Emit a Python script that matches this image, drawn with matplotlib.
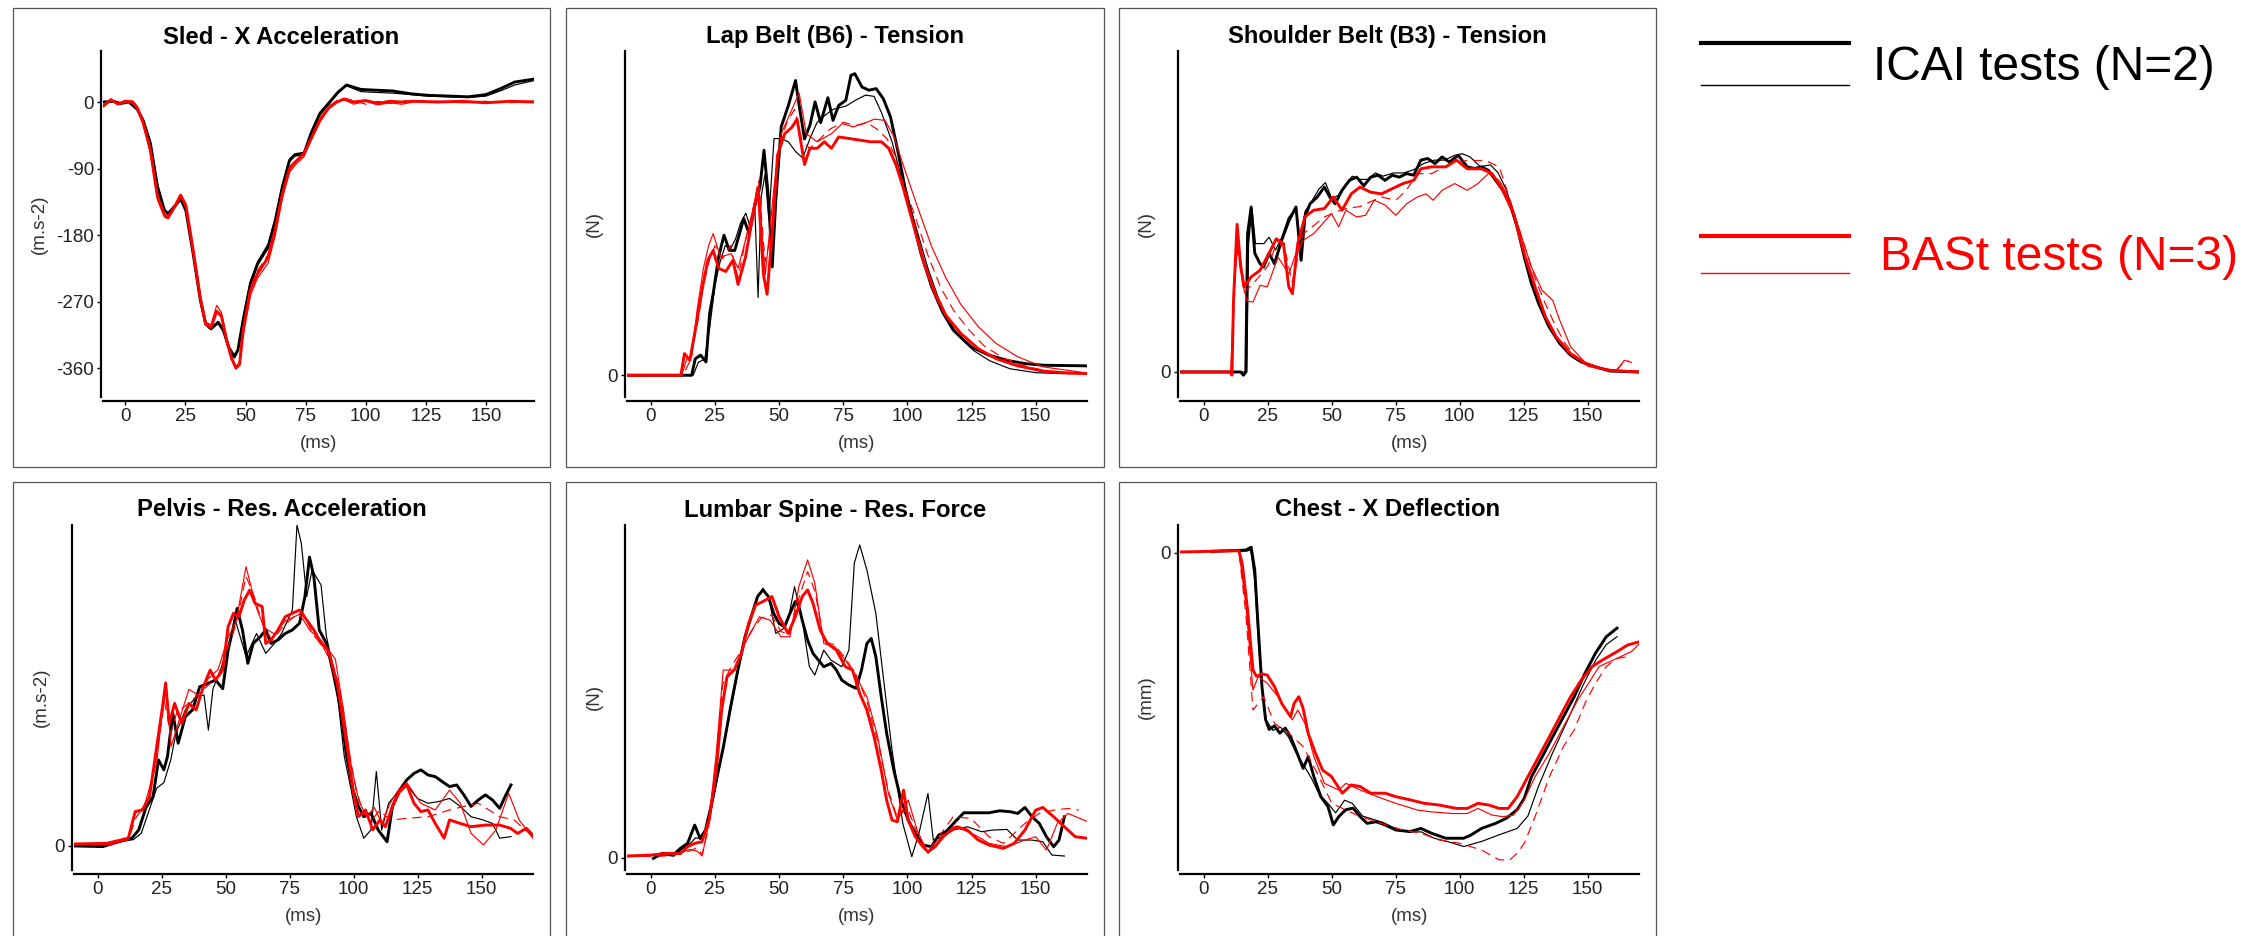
"""Sled test comparison: ICAI vs BASt traces (6 channels)."""
import matplotlib

matplotlib.use("Agg")
import matplotlib.pyplot as plt  # noqa: E402
from matplotlib.patches import Rectangle  # noqa: E402

plt.rcParams["font.family"] = ["Liberation Sans", "DejaVu Sans"]

FIG_W, FIG_H = 2261, 936

# ---------------------------------------------------------------- data (ms, value)
# Sled - X Acceleration (m.s-2)
sled_icai1 = [(-9, 0), (-5, 1), (-2, -2), (1.5, 0), (5, -10), (7.4, -25), (10.4, -56), (13.4, -115),
              (16.3, -147), (17.8, -151), (20.8, -140), (23, -131), (25.2, -147), (28.2, -205),
              (31.2, -268), (33.4, -300), (35.6, -307), (38.6, -298), (40.8, -309), (43, -332),
              (45.3, -345), (46.8, -336), (49, -295), (52, -246), (55, -219), (59.4, -196),
              (62.4, -160), (65.3, -115), (68.3, -79), (70.5, -72), (74.3, -70), (77.2, -43),
              (80.9, -16), (84.6, -2), (88.4, 13), (92, 23), (95, 20), (98, 17), (104, 16),
              (111, 15), (119, 11), (126, 9), (135, 8), (142.6, 7), (150, 10), (156, 18),
              (162, 27), (170, 31)]
sled_icai2 = [(-9, 0.5), (-5, 1), (-2, -2), (1.5, 0), (5, -9), (7.4, -23), (10.4, -53), (13.4, -112),
              (16.3, -145), (17.8, -150), (20.8, -139), (23, -130), (25.2, -146), (28.2, -203),
              (31.2, -266), (33.4, -298), (35.6, -305), (38.6, -297), (40.8, -307), (43, -330),
              (45.3, -342), (46.8, -334), (49, -292), (52, -243), (55, -216), (59.4, -192),
              (62.4, -157), (65.3, -113), (68.3, -77), (70.5, -70), (74.3, -68), (77.2, -41),
              (80.9, -14), (84.6, 0), (88.4, 14), (92, 22), (95, 18), (98, 14), (104, 13),
              (111, 12), (119, 10), (126, 8), (135, 7), (142.6, 6), (150, 8), (156, 15),
              (162, 23), (170, 29)]
sled_bast1 = [(-9, -5), (-6, 3), (-3, -3), (0, 1), (3, 0), (5, -8), (7.4, -28), (10.4, -65),
              (13.4, -129), (16.3, -153), (17.8, -156), (20.8, -140), (23, -126), (25.2, -140),
              (28.2, -200), (31.2, -265), (33.4, -300), (35.6, -305), (38, -283), (40, -290),
              (42, -320), (44, -345), (46, -360), (47.5, -355), (49, -310), (52, -255),
              (55, -232), (59.4, -210), (62.4, -172), (65.3, -125), (68.3, -90), (71, -80),
              (74.3, -70), (77.2, -50), (80.9, -25), (84.6, -8), (88, 0), (91, 4), (95, 0),
              (100, 2), (105, -2), (110, 1), (115, 0), (120, 1), (130, 0), (140, 1), (150, -1),
              (160, 1), (170, 0)]
sled_bast2 = [(-9, -3), (-6, 4), (-3, -2), (0, 2), (3, 1), (5, -6), (7.4, -30), (10.4, -68),
              (13.4, -132), (16.3, -156), (17.8, -158), (20.8, -142), (23, -128), (25.2, -142),
              (28.2, -203), (31.2, -268), (33.4, -302), (35.6, -302), (38, -275), (40, -285),
              (42, -318), (44, -345), (46, -358), (47.5, -352), (49, -315), (52, -262),
              (55, -238), (59.4, -218), (62.4, -180), (65.3, -130), (68.3, -95), (71, -84),
              (74.3, -74), (77.2, -52), (80.9, -27), (84.6, -9), (88, 1), (91, 3), (95, -3),
              (100, 1), (105, -4), (110, -1), (115, -3), (120, 0), (130, 1), (140, -1), (150, 0),
              (160, 1), (170, 1)]
sled_bast3 = [(-9, -4), (-6, 2), (-3, -3), (0, 2), (3, 1), (5, -7), (7.4, -27), (10.4, -62),
              (13.4, -126), (16.3, -150), (17.8, -154), (20.8, -138), (23, -124), (25.2, -138),
              (28.2, -198), (31.2, -262), (33.4, -298), (35.6, -301), (38, -280), (40, -288),
              (42, -322), (44, -348), (46, -356), (47.5, -350), (49, -306), (52, -250),
              (55, -228), (59.4, -206), (62.4, -168), (65.3, -122), (68.3, -88), (71, -78),
              (74.3, -68), (77.2, -48), (80.9, -22), (84.6, -6), (88, 2), (91, 5), (95, 2),
              (100, -3), (105, 1), (110, -2), (115, 1), (120, 2), (130, 0), (140, 0), (150, 1),
              (160, -1), (170, 1)]

# Lap Belt (B6) - Tension (N, relative scale)
lap_icai1 = [(-9.3, 0), (15.9, 0), (17.3, 5.1), (19.4, 6.2), (21.5, 4.1), (22.9, 19), (24.3, 25.2),
             (26.4, 36.5), (28.5, 43.2), (30.6, 38.5), (32.7, 38.5), (36.2, 48.3), (38.3, 43.7),
             (40.4, 51.9), (42.5, 58), (44.1, 69.4), (45.9, 54), (47.3, 33.4), (48.7, 54),
             (50.8, 76.6), (53.6, 83.2), (56.4, 90.9), (57.8, 83.2), (59.9, 72.9), (62, 77.1),
             (64, 84.3), (66.2, 77.9), (69, 85.6), (71, 78.6), (73.2, 83.2), (76, 84.8),
             (78, 92.5), (79.5, 93), (82.3, 88.9), (85, 87.9), (87.8, 88.4), (90.6, 85.3),
             (93.4, 79.7), (96.2, 69.4), (99, 58.1), (101.8, 48.8), (105.3, 37.5), (109.5, 27.2),
             (113.7, 19.5), (117.9, 13.9), (124.9, 8.7), (131.8, 6.2), (138.8, 4.6), (145.8, 3.6),
             (152.8, 3.1), (170, 2.9)]
lap_icai2 = [(-9.3, 0), (16.5, 0), (18.5, 4), (21, 5), (23, 15), (25, 28), (27, 35), (29, 40),
             (31, 39), (33, 42), (35, 47), (37, 50), (39, 45), (40.5, 52), (41.8, 24), (43, 55),
             (44.5, 62), (46, 48), (48, 73), (50.8, 73), (53.6, 72), (56.4, 69), (59.2, 67),
             (62, 73), (64.8, 78), (67.6, 80), (71, 82), (76, 83), (80.2, 85), (83.7, 86.4),
             (87, 86), (89.9, 81), (94, 72), (97, 63), (100, 55), (104, 44), (108, 33), (112, 24),
             (116, 17), (120, 12), (126, 7.5), (132, 4.5), (140, 2), (150, 0.8), (160, 0.5),
             (170, 0.5)]
lap_bast1 = [(-9.3, 0), (11.7, 0), (13.1, 6.7), (15.2, 4.6), (18, 17), (20.1, 27), (22.2, 35.5),
             (24.3, 38.5), (26.4, 33), (29.2, 32), (32, 35.5), (34, 28), (36.9, 36.5), (39.7, 49),
             (41.8, 58), (43.9, 31), (45.3, 25), (47.3, 44), (49.4, 68), (52.2, 74.5), (55, 76.5),
             (57, 79), (59.9, 65), (62, 70), (64.8, 70), (67.6, 72), (70.4, 70), (73.2, 73.5),
             (77.4, 73), (81.6, 72.5), (85.7, 72), (89.9, 72), (92.7, 70), (95.5, 65), (98.3, 58),
             (102.5, 46), (106.7, 34), (110.9, 25), (115, 18.5), (120.7, 13), (127.6, 8.2),
             (134.6, 5.1), (143, 2.9), (152.8, 1.3), (162.6, 0.7), (170, 0.5)]
lap_bast2 = [(-9.3, 0), (12, 0), (14, 5), (16, 6), (18, 20), (20.5, 33), (22.5, 40), (24.3, 43.7),
             (27.1, 36.5), (31.3, 37.5), (34, 33), (38.3, 46), (41.8, 58), (44.6, 31), (48, 58),
             (50.8, 74.5), (55, 82), (57.8, 87), (60.6, 74.5), (64.8, 72), (70.4, 74.5),
             (74.6, 77.6), (78.8, 76.6), (83, 77.6), (87.1, 79), (91.3, 78.6), (94.8, 73.5),
             (98.3, 65), (103.9, 52), (109.5, 39.6), (115, 30), (120.7, 22), (127.6, 15),
             (134.6, 9.8), (143, 5.7), (152.8, 2.6), (170, 0.7)]
lap_bast3 = [(-9.3, 0), (12.5, 0), (15, 4), (18, 15), (20.5, 28), (23, 36), (25, 40), (28, 36),
             (31, 40), (34, 30), (37, 42), (40, 52), (42, 60), (44.5, 35), (47.5, 45), (50, 70),
             (53, 78), (56, 82), (59, 72), (62, 70), (66, 73), (70, 76), (75, 78), (80, 77),
             (84, 78), (88, 76), (92, 73), (95, 68), (98, 60), (103, 49), (108, 37), (113, 27),
             (118, 20), (124, 14), (130, 9), (137, 5.5), (145, 3), (155, 1.2), (170, 0.5)]

# Shoulder Belt (B3) - Tension (N, relative scale)
sh_icai1 = [(-9.3, 0), (14.4, 0), (15.5, -1), (16.4, 0), (17.1, 43), (18.5, 51.4), (19.9, 37),
            (22, 33.7), (23.4, 32.7), (25.5, 37), (27.6, 33.7), (30.4, 41), (33.2, 47), (36, 51.4),
            (38, 34.8), (39.5, 48.3), (41.5, 52.4), (44.3, 54.5), (47.1, 57.6), (49.2, 54.5),
            (51.3, 52.4), (54, 56.6), (56.9, 59.7), (59.7, 60.7), (62.5, 58), (65.2, 60.7),
            (68, 61.3), (70.8, 59.7), (73.6, 61.3), (76.4, 60.7), (79.2, 61.8), (82, 61.3),
            (84.8, 66), (87.5, 66.5), (90.3, 64.9), (93.1, 67), (95.9, 65.4), (99.4, 67.5),
            (102.9, 63.9), (105.7, 63.4), (108.5, 63.9), (111.2, 62.8), (114, 59.7), (116.8, 56.6),
            (119.6, 52.4), (122.4, 45.2), (125.2, 35.8), (128, 27.5), (130.8, 21.3), (134.9, 14),
            (139.1, 8.8), (143.3, 5.2), (147.5, 3.1), (153, 1.6), (158.6, 0.3), (170, 0)]
sh_icai2 = [(-9.3, 0), (16.8, 0), (17.5, 40), (18.8, 51), (20.2, 40), (22, 40), (23.5, 40),
            (25.5, 42), (28, 38), (30.5, 42), (33, 48), (36, 51), (37.5, 38), (39.5, 50), (42, 53),
            (45, 57), (47.5, 59), (50, 54), (52.5, 55), (55, 58), (58, 61), (61, 60), (64, 60),
            (67, 62), (70, 61), (74, 62), (78, 62), (82, 63), (86, 65), (90, 66), (94, 66),
            (98, 67.5), (101, 68), (104, 67), (108, 64), (112, 64.5), (115, 62), (118, 57),
            (121, 50), (124, 40), (127, 31), (130, 23), (134, 15), (139, 9), (144, 5), (150, 2.2),
            (158, 0.5), (170, 0)]
sh_bast1 = [(-9.3, 0), (10.2, 0), (11, -1), (11.6, 22.3), (13, 46), (14.4, 32.7), (15.8, 26.5),
            (18.5, 29.6), (22, 31.7), (25.5, 37), (28.3, 41.5), (31.1, 40), (33.2, 26.5),
            (34.6, 24.4), (36.7, 40), (39.5, 48.3), (42.9, 50.4), (47.1, 50.9), (50.6, 54.5),
            (54, 50.4), (57.6, 55.5), (61, 57.6), (65.2, 56), (69.4, 55.5), (73.6, 57.1),
            (77.8, 58.7), (82, 59.7), (84.8, 63.3), (88.9, 63.9), (94.5, 63.9), (98.7, 66),
            (102.9, 63.3), (108.5, 63.3), (112.6, 61.8), (116.8, 56.6), (121, 49.3), (125.2, 36.8),
            (129.4, 26.5), (133.5, 17.1), (137.7, 10.9), (143.3, 5.7), (150.3, 2), (158.6, 0.5),
            (170, 0)]
sh_bast2 = [(-9.3, 0), (10.5, 0), (12, 30), (13.5, 40), (15.2, 27), (17, 22), (19.2, 21.8),
            (22, 27), (24.8, 26.5), (29, 35.8), (33.2, 30.5), (36, 37), (38.8, 41), (42.9, 43.1),
            (46.4, 46.2), (49.9, 49.3), (52.7, 45.2), (55.5, 50.4), (59.7, 48.3), (63.2, 48.8),
            (66.6, 53.5), (70.8, 52), (75, 48.8), (79.2, 52.4), (83.4, 54.5), (86.8, 55.5),
            (89.6, 53.5), (93.1, 56.6), (98, 58.7), (102.9, 56.6), (107.1, 58.7), (111.2, 61.8),
            (115.4, 59.7), (119.6, 53.5), (123.8, 43), (128, 32.7), (132.2, 25.4), (136.3, 22.3),
            (139.1, 16), (143.3, 7.8), (148.8, 3.1), (155.8, 1), (161.4, 0.5), (164.2, 3.6),
            (167, 3)]
sh_bast3 = [(-9.3, 0), (10.8, 0), (12.5, 35), (14, 38), (16, 25), (19.2, 27.5), (22, 30), (25, 33),
            (29, 41), (32, 37), (34.5, 28), (38.8, 43), (42, 45), (47.1, 48.3), (52, 50), (56, 51),
            (61, 51.5), (65, 53), (69.4, 54.5), (75, 53.5), (79, 56.5), (83.4, 61.8), (88.9, 61.8),
            (97, 65), (102.9, 65.9), (110, 65.9), (115.4, 63.9), (118, 57.6), (121, 50), (125, 40),
            (129, 30), (133, 22), (137, 15), (141, 9), (145, 5), (150, 2.5), (156, 1), (161, 0.5),
            (164, 3), (166, 3.5)]

# Pelvis - Res. Acceleration (m.s-2, relative scale)
pel_icai1 = [(-9.3, 0), (2, -0.2), (10.5, 1.9), (13.3, 2.4), (16, 5), (18.8, 12), (21.6, 15.4),
             (23.7, 26.8), (25.8, 23.7), (27.2, 27.8), (29.3, 41.3), (31.4, 32), (34.2, 40.3),
             (37, 42.4), (39.8, 49.6), (43.2, 50.7), (46, 51.7), (48.8, 49), (50.9, 61), (53, 68.3),
             (54.4, 74), (56.5, 67.3), (58.6, 56.9), (60.7, 63.1), (63.5, 65.2), (65.6, 67.3),
             (67.7, 63.1), (70.4, 64.2), (73.2, 66.2), (76, 67.3), (78.8, 69.4), (80.9, 77.7),
             (82.7, 90), (84.4, 83.9), (86.5, 67.3), (89.3, 63.1), (92, 53.8), (94.9, 42.4),
             (97, 28.9), (99.7, 17.4), (101.8, 12.3), (103.9, 9.1), (106.7, 10.2), (109.5, 5),
             (113, 1.3), (115.1, 12.3), (117.9, 17.4), (120.7, 20.6), (123.5, 22.6), (126.2, 23.7),
             (129, 22.1), (131.8, 21.6), (134.6, 20), (137.4, 18.5), (140.2, 19), (143, 15.9),
             (145.8, 12.3), (148.6, 14.3), (151.4, 15.9), (154.2, 14.3), (157, 11.7), (159.1, 15.4),
             (161.4, 19)]
pel_icai2 = [(-9.3, 0), (2, 0), (10.5, 1.5), (14, 2), (17, 4), (20, 11), (23, 18), (25.8, 19.7),
             (28.5, 26.8), (30.5, 35), (34.2, 42.4), (38.4, 46.5), (41.5, 47), (43.2, 36.1),
             (45, 49), (48, 55), (50.9, 62.3), (53.7, 70.4), (57.9, 59), (62, 66.2), (65.6, 60),
             (69, 63.1), (71.8, 66.2), (76, 73.5), (77.8, 100), (79.5, 94.3), (81.6, 77.7),
             (83.7, 86), (87.2, 81.3), (89.3, 65.2), (92.8, 52.7), (96.3, 27.8), (99, 17.4),
             (101, 9.1), (103.9, 2.4), (106.7, 5), (108.8, 23.2), (110.9, 5), (113.6, 13.3),
             (117.9, 17.4), (120.7, 19), (124.8, 14.8), (129, 13.3), (133, 13.8), (137.4, 14.8),
             (141.6, 12.3), (145.8, 9.1), (150.5, 8.1), (154.2, 7), (157, 2.4), (161.4, 2.9)]
pel_bast1 = [(-9.3, 0.6), (3.5, 0.8), (11.9, 2.4), (14.6, 10.7), (17.4, 11.2), (20.2, 15.4),
             (23, 30.9), (25.1, 42.4), (26.5, 50.7), (27.9, 38.2), (30, 44.4), (32.8, 38.2),
             (35.6, 44.4), (38.4, 42.4), (41.2, 49.6), (43.9, 54.8), (46, 51.7), (48.8, 54.8),
             (50.9, 68.3), (53, 72.5), (55.1, 71.4), (57.2, 76.6), (59.3, 79.7), (61.4, 75.6),
             (64.2, 74.6), (65.6, 63.1), (67.7, 64.2), (70.4, 67.3), (73.2, 71.4), (76, 72.5),
             (78.8, 73.5), (81.6, 70.4), (84.4, 67.3), (87.2, 63.1), (90, 61), (93.5, 50.7),
             (95.6, 40.3), (97.7, 28.9), (99.7, 17.4), (101.8, 9.1), (104.6, 11.2), (107.4, 5),
             (110.2, 8.1), (112.3, 6), (115.1, 12.3), (117.9, 16.9), (120.7, 19), (123.5, 13.3),
             (126.2, 10.7), (129, 11.2), (131.8, 7), (135.3, 2.4), (137.4, 8.1), (141.6, 7),
             (145.8, 6), (151.4, 6.5), (157, 6.5), (161.2, 5.5), (164, 3.9), (167.4, 5.5),
             (169.9, 3.4)]
pel_bast2 = [(-9.3, 0.5), (5, 0.5), (12, 2), (14.6, 10.2), (18, 12), (23, 25.9), (26.5, 51.2),
             (28.6, 30.9), (31.4, 38.2), (35.6, 48.8), (39.8, 46.7), (43, 52), (47, 55), (50.9, 65),
             (54, 70), (57.9, 87), (62, 74.1), (65, 68), (69, 66), (73.2, 70.1), (78.8, 72.2),
             (83, 67), (87.2, 64.2), (92.8, 58.2), (96, 42), (99, 25), (102, 14), (105, 9),
             (108, 12), (111, 7), (114, 13), (117, 17), (120.7, 19.7), (126.2, 13.3), (131.8, 11.2),
             (137.4, 17.4), (141.6, 13.3), (145.8, 3.9), (150.7, 0.3), (155.5, 5), (160.5, 16.4),
             (164.6, 8.1), (169.9, 2.4)]
pel_bast3 = [(-9.3, 0.3), (5, 0.3), (12, 2), (15, 9), (19, 13), (23, 28), (26, 45), (28.5, 35),
             (31, 42), (35, 44), (39, 47), (43, 50), (47, 53), (50.9, 62), (54, 69), (57.9, 84),
             (61, 78), (64, 70), (68, 64), (72, 68), (76, 71), (80, 73), (84, 66), (88, 62),
             (92, 56), (95.5, 45), (98, 30), (101, 17), (104, 10), (107, 8), (110, 11), (113, 9),
             (115.1, 8.1), (120.7, 8.6), (129, 9.1), (137.4, 11.2), (143, 12.3), (148.6, 13.3),
             (157, 9.1), (162.6, 8.1), (169.9, 2.9)]

# Lumbar Spine - Res. Force (N, relative scale)
lum_icai1 = [(1, -0.2), (4.5, 1.3), (8.7, 0.8), (11.5, 2.8), (14.3, 4.3), (17.1, 9.8), (19.2, 5.8),
             (21.3, 8.3), (23.4, 15.3), (25.5, 23.3), (28.3, 33.4), (31.1, 45.4), (33.9, 56.4),
             (36.7, 66.4), (39.5, 73.4), (41.6, 78.5), (43.7, 80.5), (45.8, 78.5), (47.9, 73.4),
             (50, 70.4), (52.1, 69.4), (54.2, 73.4), (56.3, 77), (57.7, 75.5), (59, 71.4),
             (61.1, 65.4), (63.2, 61.4), (65.3, 59.4), (67.4, 57.4), (70.2, 58.4), (72.3, 56.4),
             (74.4, 53.4), (77.2, 51.9), (80, 50.9), (82.1, 56.4), (84.2, 64.4), (85.9, 65.9),
             (87.7, 60.4), (89.8, 48.4), (91.9, 37.4), (94.7, 26.3), (97.5, 17.3), (100.3, 11.3),
             (103.1, 7.3), (106, 3.8), (109.4, 3.3), (112.2, 6.8), (115, 7.8), (119.2, 11.3),
             (122, 13.5), (126.2, 13.5), (131.8, 13.5), (136, 14.1), (140.2, 13.8), (143, 13.3),
             (145.8, 15.1), (148.6, 12.3), (151.4, 10.3), (154.2, 6.3), (157, 3.3), (159.1, 5.3),
             (161.2, 12.3)]
lum_icai2 = [(1, 0), (5, 0.8), (9, 0.5), (12, 2.5), (15, 4), (17.5, 6), (20, 5.5), (22.5, 10),
             (25, 20), (28, 32), (31, 44), (34, 56), (37, 67), (40, 75), (42, 79), (43.7, 81),
             (46, 78), (48.7, 67.4), (52, 69), (54, 73.4), (56, 81.5), (59, 71.4), (61.8, 57.4),
             (63.9, 54.9), (67.4, 62.4), (70.2, 59.4), (74.4, 57.4), (77.2, 62.4), (79.3, 88.5),
             (81.4, 94), (84.2, 86.5), (87.7, 73.4), (91.2, 50.4), (94, 32.4), (98.2, 10.3),
             (101.7, 0.3), (104.5, 7.3), (108, 19.3), (110.1, 5.3), (113.6, 6.3), (117.8, 8.3),
             (123.4, 9.3), (129, 7.8), (133.2, 8.3), (138.8, 8.5), (143, 5.3), (148.6, 5.3),
             (152.8, 4.8), (156.3, 0.8), (161.2, 0.5)]
lum_bast1 = [(-9.5, 0.5), (0.3, 0.8), (5.9, 1.3), (11.5, 1.3), (14.3, 3.3), (17.1, 4.3),
             (19.9, 4.8), (22.7, 11.3), (25.5, 26.3), (27.6, 44.4), (29.7, 54.4), (32.5, 56.4),
             (35.3, 61.4), (38.1, 70.4), (40.9, 76), (43.7, 77), (47.2, 78.5), (50, 72.4),
             (53.5, 67.4), (56.3, 72.4), (59, 78.5), (61.1, 80.5), (63.2, 76.5), (66, 68.4),
             (68.8, 64.4), (72.3, 62.4), (75.8, 57.4), (78.6, 56.4), (81.4, 49.4), (84.2, 44.4),
             (87, 36.4), (89.8, 26.3), (91.9, 17.3), (94, 11.3), (96.1, 10.8), (98.5, 20.3),
             (100.3, 11.3), (103.1, 6.3), (106, 3.3), (108, 1.8), (110.8, 3.3), (113.6, 6.3),
             (116.4, 7.8), (119.2, 9.3), (123.4, 8.3), (127.6, 5.3), (131.8, 3.8), (137.4, 2.8),
             (141.6, 4.3), (145.8, 8.3), (150, 14.3), (152.8, 15.1), (157, 12.3), (161.2, 9.3),
             (165.4, 6.3), (170.3, 5.8)]
lum_bast2 = [(-9.5, 0.5), (5, 0.8), (12, 1.5), (15, 2.5), (18, 2), (20, 0.5), (22.5, 10),
             (25.5, 31.4), (28.2, 56.4), (32.5, 56.4), (36.7, 64.4), (42.3, 72.4), (46.5, 71.4),
             (50.7, 66.4), (54.2, 66.4), (57.7, 81.5), (61.1, 89.5), (63.9, 82.5), (67.4, 64.4),
             (71.6, 63.4), (75.8, 59.4), (80, 54.4), (84.2, 48.4), (88.4, 36.4), (92.6, 19.3),
             (96.1, 11.3), (100.3, 17.3), (103.8, 8.3), (108, 1.3), (112.2, 4.3), (117.8, 9.3),
             (122, 8.3), (127.6, 6.3), (131.8, 4.3), (138.8, 3.3), (145.8, 5.3), (150, 6.3),
             (154.2, 2.3), (158.4, 10.3), (162.6, 13.3), (170.3, 10.8)]
lum_bast3 = [(-9.5, 0.3), (5, 0.5), (12, 1.2), (15, 2), (18, 3), (20, 1), (22.5, 9), (25.5, 30),
             (28, 52), (31, 57), (35, 62), (39, 68), (43, 72), (47, 73), (50.7, 68), (54, 67),
             (57.7, 78), (61.1, 86), (64, 80), (67.4, 65), (71.6, 64), (75.8, 60), (80, 55),
             (84.2, 47), (88.4, 35), (92.6, 20), (96.1, 12), (100, 15), (104, 7), (108, 2),
             (112, 6), (117.8, 12.3), (124.8, 11.8), (131.8, 6.3), (137.4, 4.3), (145.8, 10.3),
             (151.4, 13.3), (157, 14.3), (162.6, 14.8), (166.8, 14.3)]

# Chest - X Deflection (mm, relative scale)
ch_icai1 = [(3.2, 0.4), (16.4, 0.8), (18.5, 1.7), (19.9, -5.5), (21.3, -24.4), (22.7, -42),
            (24.1, -52.5), (25.5, -55.7), (27.6, -54.6), (29.7, -56.9), (31.8, -55.3), (33.9, -58),
            (36, -62.2), (38.8, -68), (40.8, -64.3), (43, -70.6), (45.7, -76.9), (48.5, -80),
            (50.6, -85.8), (52.7, -83.2), (55.5, -81), (58.3, -80.5), (61.1, -83.2), (63.8, -85.3),
            (67.3, -84.8), (70.8, -85.8), (75, -87.4), (80.6, -87.9), (84.8, -86.9), (88.9, -88.4),
            (94.5, -90), (101.5, -90), (104.3, -89), (108.5, -86.9), (114, -85.3), (118.2, -83.7),
            (122.4, -81), (125.2, -77.4), (128, -70.6), (132.2, -64.3), (136.3, -58),
            (140.5, -51.7), (144.7, -45.4), (148.9, -38), (153, -31.7), (157.2, -26.5),
            (161.4, -23.8)]
ch_icai2 = [(3.2, 0.3), (16.8, 0.5), (18.3, 0.8), (19.8, -8), (21.5, -30), (23, -45), (24.5, -53),
            (27, -56), (30, -55), (33, -58), (36, -63), (39, -67), (42, -71), (45, -76),
            (48.5, -79), (51.5, -82), (55, -78), (58, -79), (62, -83), (66, -84), (70, -85),
            (75, -87), (80, -88), (85, -88), (90, -90), (95, -91), (101.6, -92.6), (108.5, -91),
            (115.4, -88.9), (122.4, -86.9), (126.6, -83), (130.8, -73.5), (136.3, -63), (142, -53),
            (148, -42), (153, -34), (157.2, -29), (161.4, -26.5)]
ch_bast1 = [(-9, 0.2), (13.7, 0.6), (15, -3.4), (17.1, -18), (19.2, -37), (20.6, -39),
            (22.7, -38.2), (24.8, -38.6), (27.6, -42.2), (30.4, -47.5), (33.9, -51.7),
            (35.3, -47.5), (37.1, -45.4), (38.8, -49.1), (40.8, -57), (43.6, -63.2), (46.4, -68.5),
            (49.9, -70.6), (54.1, -75.8), (57.6, -73.2), (61.1, -73.7), (65.2, -75.8),
            (70.8, -75.8), (75, -76.9), (80.6, -77.9), (86.2, -79), (91.7, -79.5), (98.7, -80.6),
            (102.9, -80.6), (107.1, -79), (111.2, -79.5), (115.4, -80.6), (118.9, -80.6),
            (122.4, -76.9), (126.6, -70.6), (130.8, -64.3), (135, -58), (139.1, -51.7),
            (143.3, -45.4), (147.5, -40.1), (151.7, -35.9), (155.8, -33.8), (161.4, -31.2),
            (165.6, -29.1), (170.5, -28)]
ch_bast2 = [(-9, 0.2), (13.7, 0.6), (16.5, -16.6), (19.2, -43.3), (21.3, -39), (24.8, -41.2),
            (29, -45.4), (34.6, -52.7), (36.7, -49.6), (39.5, -53.8), (43, -64.3), (47.1, -72.7),
            (52.7, -74.8), (55.5, -72.7), (61.1, -74.8), (69.4, -77.4), (75, -79), (83.4, -81.1),
            (89, -81.7), (97.3, -82.2), (102.9, -82.2), (107.1, -80.6), (112.6, -82.7),
            (116.8, -83.2), (121, -82.7), (125.2, -77.9), (129.4, -70.6), (135, -63.2),
            (140.5, -54.8), (146.1, -46.4), (150.3, -41.2), (154.4, -35.9), (161.4, -33.3),
            (167, -31.2), (170.5, -28.4)]
ch_bast3 = [(-9, 0.2), (13.7, 0.4), (16.5, -20), (19.2, -49.6), (23.4, -45.4), (27.6, -53.8),
            (33.2, -56.9), (38.8, -61.1), (44.3, -69.5), (50, -79), (55.5, -81.1), (61.1, -83.2),
            (69.4, -85.3), (77.8, -87.4), (84.8, -88.4), (91.7, -90.5), (100.1, -91.6),
            (108.5, -93.7), (115.4, -96.8), (119.6, -96.8), (122.4, -94.7), (125.2, -91.6),
            (129.4, -83.2), (135, -70.6), (140.5, -61.1), (144.7, -55.9), (148.9, -47.5),
            (153, -41.2), (157.2, -35.9), (161.4, -33.3), (165.6, -32.8)]

TITLES = ["Sled - X Acceleration", "Lap Belt (B6) - Tension", "Shoulder Belt (B3) - Tension",
          "Pelvis - Res. Acceleration", "Lumbar Spine - Res. Force", "Chest - X Deflection"]
YLABELS = ["(m.s-2)", "(N)", "(N)", "(m.s-2)", "(N)", "(mm)"]
YTICKS = [[0, -90, -180, -270, -360], [0], [0], [0], [0], [0]]
XTICKS = [0, 25, 50, 75, 100, 125, 150]
LEGEND_LABELS = ["ICAI tests (N=2)", "BASt tests (N=3)"]

CURVES = [
    (sled_icai1, sled_icai2, sled_bast1, sled_bast2, sled_bast3),
    (lap_icai1, lap_icai2, lap_bast1, lap_bast2, lap_bast3),
    (sh_icai1, sh_icai2, sh_bast1, sh_bast2, sh_bast3),
    (pel_icai1, pel_icai2, pel_bast1, pel_bast2, pel_bast3),
    (lum_icai1, lum_icai2, lum_bast1, lum_bast2, lum_bast3),
    (ch_icai1, ch_icai2, ch_bast1, ch_bast2, ch_bast3),
]

# ---------------------------------------------------------------- layout (pixels)
YLIMS = [(-399, 69), (-6.7, 100), (-7.8, 100), (-7.5, 100), (-3.7, 100), (-100, 8.7)]
XLIM = (-9.3, 170)
# axes: left, right, top, bottom in image pixels
AXES_PX = [(103, 534, 51, 397), (627, 1087, 51, 397), (1180, 1639, 51, 397),
           (74, 533, 525, 870), (627, 1087, 525, 870), (1180, 1639, 525, 870)]
BOX_PX = [(13, 550, 8, 467), (566, 1104, 8, 467), (1119, 1656, 8, 467),
          (13, 550, 482, 945), (566, 1104, 482, 945), (1119, 1656, 482, 945)]
TITLE_Y = [37, 37, 37, 510, 510, 510]
YLABEL_X = [39, 594, 1146, 41, 594, 1146]

# line styles: ICAI thick/thin, BASt thick/thin/dashed
STYLES = [dict(color="black", lw=2.1), dict(color="black", lw=0.85),
          dict(color="red", lw=2.1), dict(color="red", lw=0.85),
          dict(color="red", lw=0.85, ls=(0, (8, 5)))]


def fx(px):
    return px / FIG_W


def fy(py):
    return 1 - py / FIG_H


fig = plt.figure(figsize=(FIG_W / 100, FIG_H / 100), dpi=100)

for i in range(6):
    l, r, t, b = AXES_PX[i]
    ax = fig.add_axes([fx(l), fy(b), fx(r - l), (b - t) / FIG_H])
    for curve, st in zip(CURVES[i], STYLES):
        ts = [p[0] for p in curve]
        vs = [p[1] for p in curve]
        ax.plot(ts, vs, solid_joinstyle="round", **st)
    ax.set_xlim(*XLIM)
    ax.set_ylim(*YLIMS[i])
    ax.set_xticks(XTICKS)
    ax.set_yticks(YTICKS[i])
    ax.set_yticklabels([str(v) for v in YTICKS[i]])
    for side in ("top", "right"):
        ax.spines[side].set_visible(False)
    ax.spines["left"].set_position(("outward", 1.5))
    ax.spines["bottom"].set_position(("outward", 2.6))
    for side in ("left", "bottom"):
        ax.spines[side].set_linewidth(1.6)
    ax.tick_params(labelsize=13.5, labelcolor="#222222", length=3, width=1, pad=2)
    ax.patch.set_alpha(0)
    ax.text(0.5, -0.135, "(ms)", transform=ax.transAxes, ha="center", va="center",
            fontsize=13.5, color="#333333")

    bl, br, bt, bb = BOX_PX[i]
    fig.patches.append(Rectangle((fx(bl), fy(bb)), fx(br - bl), (bb - bt) / FIG_H,
                                 transform=fig.transFigure, fill=False,
                                 edgecolor="#555555", lw=0.9))
    fig.text(fx((bl + br) / 2), fy(TITLE_Y[i]), TITLES[i], ha="center", va="center",
             fontsize=17.2, fontweight="bold")
    fig.text(fx(YLABEL_X[i]), fy((t + b) / 2), YLABELS[i], rotation=90, ha="center",
             va="center", fontsize=13.5, color="#333333")

# legend drawn as free lines + text, like the original
for (y_thick, y_thin, y_text, color), label in zip(
        [(43, 85, 67, "black"), (236, 273, 258, "red")], LEGEND_LABELS):
    fig.add_artist(plt.Line2D([fx(1701), fx(1849)], [fy(y_thick)] * 2, color=color, lw=3,
                              transform=fig.transFigure))
    fig.add_artist(plt.Line2D([fx(1701), fx(1849)], [fy(y_thin)] * 2, color=color, lw=1,
                              transform=fig.transFigure))
    fig.text(fx(1873 if color == "black" else 1880), fy(y_text), label, ha="left",
             va="center", fontsize=34.5, color=color)

fig.savefig("out.png", dpi=100)
